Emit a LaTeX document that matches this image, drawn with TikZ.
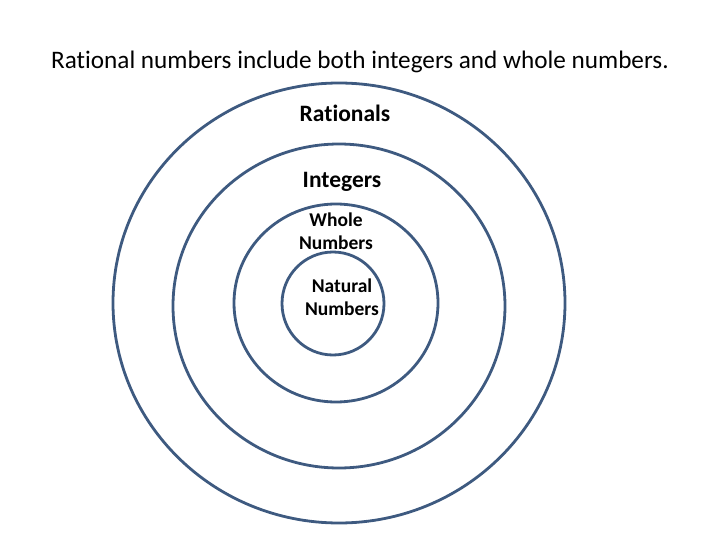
\documentclass[tikz,border=0pt]{standalone}
\usepackage{fontspec}
\setmainfont{Carlito}[Ligatures=CommonOff]
\usetikzlibrary{positioning}
\definecolor{ringblue}{RGB}{62,90,128}

\begin{document}
\begin{tikzpicture}[
  x=1pt, y=-1pt,
  ring/.style={draw=ringblue, line width=2.8pt},
  heading/.style={font=\fontsize{25.2}{30}\selectfont, inner sep=0pt, anchor=base},
  biglabel/.style={font=\bfseries\fontsize{23.5}{28}\selectfont, inner sep=0pt, anchor=base},
  setlabel/.style={font=\bfseries\fontsize{19.5}{23.5}\selectfont, align=center, inner sep=0pt}
]
\useasboundingbox (0,0) rectangle (720,540);
\node[heading] (title) at (360,68.5) {Rational numbers include both integers and whole numbers.};
% the four sets, outermost first
\draw[ring] (339,303) ellipse [x radius=226pt, y radius=220pt];
\draw[ring] (339,306) ellipse [x radius=166pt, y radius=162pt];
\draw[ring] (336,303) ellipse [x radius=102pt, y radius=99pt];
\draw[ring] (333,303.5) ellipse [x radius=51pt, y radius=51.5pt];
\node[biglabel] (rationals) at (345,122) {Rationals};
\node[biglabel] (integers) at (342,188) {Integers};
\node[setlabel] (whole) at (336,231) {Whole\\Numbers};
\node[setlabel] (natural) at (342,297) {Natural\\Numbers};
\end{tikzpicture}
\end{document}
